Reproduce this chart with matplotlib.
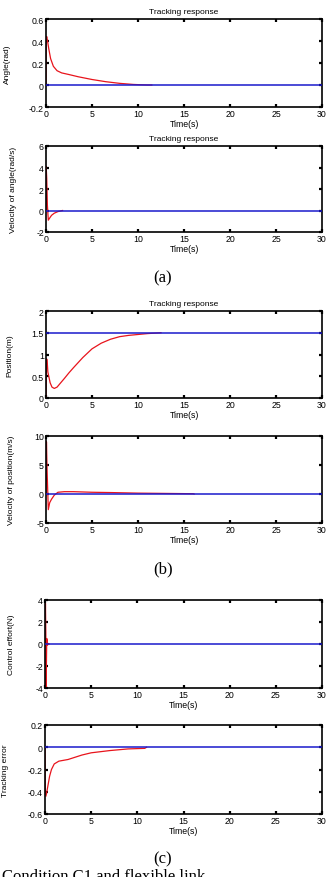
"""Six tracking-response panels, MATLAB look.
"""

import matplotlib

matplotlib.use("Agg")
import matplotlib.pyplot as plt
from matplotlib.ticker import FormatStrFormatter

plt.rcParams["font.family"] = ["Liberation Sans", "DejaVu Sans"]

W, H = 328, 878
RED = "#e8141c"
BLUE = "#1a1acc"

T_END = 30
x_ticks = [0, 5, 10, 15, 20, 25, 30]

# (a) angle
ang_t = [0, 0.02, 0.08, 0.15, 0.3, 0.5, 0.8, 1.2, 1.7, 2.5, 3.5, 5, 6.5, 8, 9.5, 11, 11.5]
ang_y = [0, 0.42, 0.44, 0.41, 0.33, 0.24, 0.17, 0.13, 0.11, 0.095, 0.075, 0.05, 0.03, 0.015, 0.005, 0.0, 0]
ang_ref = 0

angv_t = [0, 0.02, 0.08, 0.15, 0.25, 0.4, 0.6, 0.9, 1.3, 1.8]
angv_y = [0, 4.1, 3.0, 0.5, -0.9, -0.7, -0.45, -0.25, -0.1, 0]
angv_ref = 0

# (b) position
pos_t = [0, 0.05, 0.12, 0.2, 0.3, 0.45, 0.65, 0.9, 1.2, 1.6, 2, 2.5, 3, 4, 5, 6, 7, 8, 9, 10, 11, 12.5]
pos_y = [0, 0.9, 0.88, 0.6, 0.5, 0.35, 0.25, 0.22, 0.25, 0.35, 0.45, 0.58, 0.7, 0.93, 1.13, 1.26, 1.35, 1.41, 1.44, 1.46, 1.48, 1.5]
pos_ref = 1.5

posv_t = [0, 0.05, 0.12, 0.25, 0.4, 0.6, 0.9, 1.3, 2, 3, 5, 7, 10, 13, 16, 16.1]
posv_y = [0, 9.0, 4.0, -2.7, -1.5, -0.9, -0.2, 0.3, 0.4, 0.4, 0.3, 0.25, 0.15, 0.1, 0.05, 0]
posv_ref = 0

# (c) control effort and tracking error
u_t = [0, 0.05, 0.09, 0.12, 0.15, 0.19, 0.23, 0.28, 0.35, 0.45]
u_y = [0, 3.7, 1.0, -3.9, -2.0, 0.5, 0.3, -0.1, 0.05, 0]
u_ref = 0

err_t = [0, 0.03, 0.1, 0.2, 0.35, 0.5, 0.7, 1.0, 1.5, 2.5, 4, 5, 7, 9, 10.8, 11]
err_y = [0, -0.4, -0.44, -0.4, -0.33, -0.26, -0.2, -0.15, -0.125, -0.11, -0.07, -0.05, -0.03, -0.015, -0.01, 0]
err_ref = 0

panels = [
    # top, bottom, left, t, y, ref, ylim, yticks, ylabel, title, ylabel right edge x
    (20, 108, 46, ang_t, ang_y, ang_ref, (-0.2, 0.6), [-0.2, 0, 0.2, 0.4, 0.6], "Angle(rad)", True, 11),
    (147, 233, 46, angv_t, angv_y, angv_ref, (-2, 6), [-2, 0, 2, 4, 6], "Velocity of angle(rad/s)", True, 17),
    (312, 399, 46, pos_t, pos_y, pos_ref, (0, 2), [0, 0.5, 1, 1.5, 2], "Position(m)", True, 13),
    (437, 524, 46, posv_t, posv_y, posv_ref, (-5, 10), [-5, 0, 5, 10], "Velocity of position(m/s)", False, 15),
    (601, 689, 45, u_t, u_y, u_ref, (-4, 4), [-4, -2, 0, 2, 4], "Control effort(N)", False, 15),
    (726, 815, 45, err_t, err_y, err_ref, (-0.6, 0.2), [-0.6, -0.4, -0.2, 0, 0.2], "Tracking error", False, 9),
]

fig = plt.figure(figsize=(W / 100, H / 100), dpi=100)

for top, bottom, left, t, y, ref, ylim, yticks, ylabel, title, ylab_x in panels:
    ax = fig.add_axes([left / W, 1 - bottom / H, (322 - left) / W, (bottom - top) / H])
    ax.plot(t, y, color=RED, linewidth=0.9, zorder=2)
    ax.plot([0, T_END], [ref, ref], color=BLUE, linewidth=1.1, zorder=3)
    ax.set_xlim(0, T_END)
    ax.set_ylim(*ylim)
    ax.set_xticks(x_ticks)
    ax.set_yticks(yticks)
    ax.yaxis.set_major_formatter(FormatStrFormatter("%g"))
    ax.tick_params(direction="in", length=2.5, width=1.6, labelsize=6.3, pad=1.5,
                   top=True, right=True, colors="black")
    for s in ax.spines.values():
        s.set_linewidth(1.2)
    ax.set_xlabel("Time(s)", fontsize=6.3, labelpad=1)
    ax.set_ylabel(ylabel, fontsize=6.0)
    ax.yaxis.set_label_coords((ylab_x - left) / (322 - left), 0.5)
    if title:
        ax.set_title("Tracking response", fontsize=6.0, pad=4)

fig.text(163 / W, 1 - 278 / H, "(a)", family="Liberation Serif", fontsize=12, ha="center", va="center")
fig.text(163 / W, 1 - 569 / H, "(b)", family="Liberation Serif", fontsize=12, ha="center", va="center")
fig.text(163 / W, 1 - 859 / H, "(c)", family="Liberation Serif", fontsize=12, ha="center", va="center")
# caption is cut by the lower edge in the original too
fig.text(2 / W, 1 - 881 / H, "Condition C1 and flexible link", family="Liberation Serif",
         fontsize=12, ha="left", va="baseline")

fig.savefig("out.png", dpi=100)
